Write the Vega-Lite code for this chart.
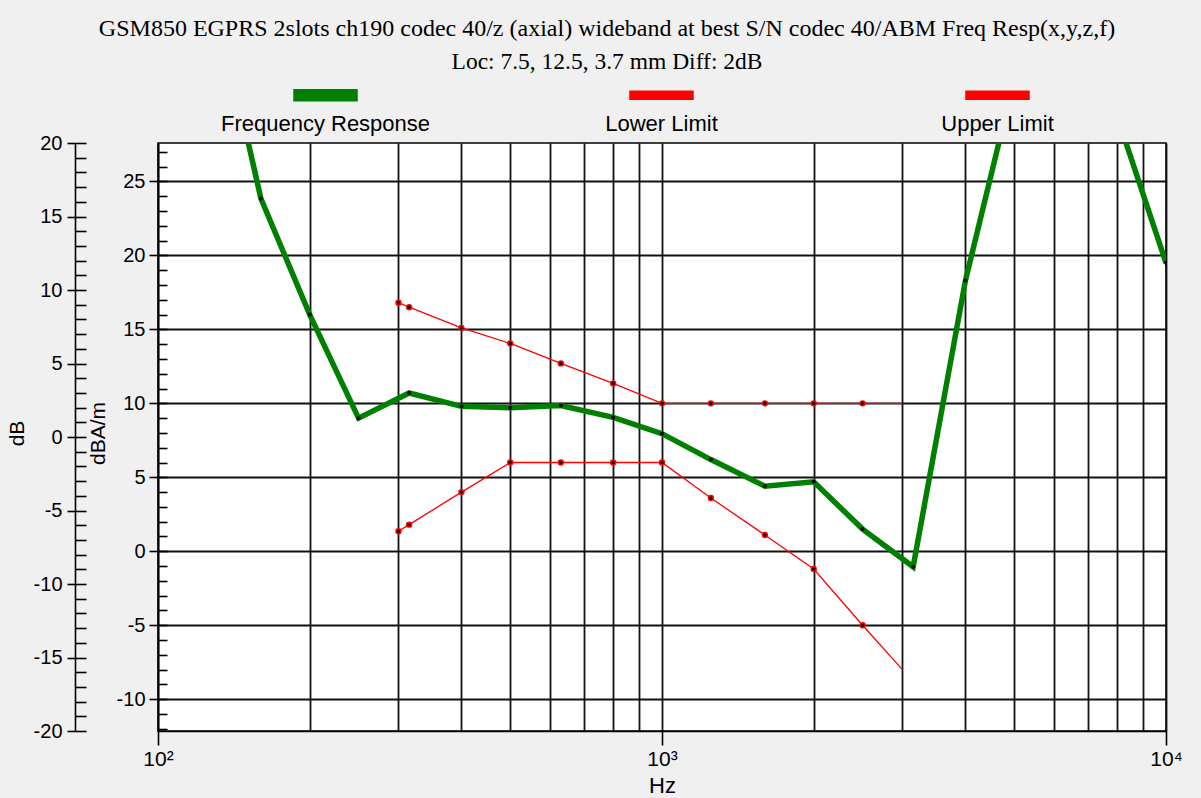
{
  "$schema": "https://vega.github.io/schema/vega-lite/v6.json",
  "width": 1008,
  "height": 588,
  "autosize": {"type": "none"},
  "padding": {"left": 158, "top": 143, "right": 35, "bottom": 67},
  "background": "#f0f0f0",
  "config": {
    "view": {"fill": "#ffffff", "stroke": "#000000", "strokeWidth": 1.5},
    "font": "Liberation Sans",
    "axis": {
      "labelFont": "Liberation Sans", "titleFont": "Liberation Sans",
      "labelColor": "#000000", "titleColor": "#000000", "tickColor": "#000000",
      "domainColor": "#000000", "gridColor": "#111111", "titleFontWeight": "normal",
      "labelFontSize": 20, "titleFontSize": 21, "tickWidth": 1.6, "domainWidth": 1.6,
      "gridWidth": 1.8, "gridOpacity": 1, "labelFlush": false, "labelOverlap": false
    }
  },
  "title": {
    "text": "GSM850 EGPRS 2slots ch190 codec 40/z (axial) wideband at best S/N codec 40/ABM Freq Resp(x,y,z,f)",
    "subtitle": "Loc: 7.5, 12.5, 3.7 mm Diff: 2dB",
    "font": "Liberation Serif", "fontSize": 24, "fontWeight": "normal", "color": "#000000",
    "subtitleFont": "Liberation Serif", "subtitleFontSize": 23.5, "subtitleColor": "#000000",
    "subtitlePadding": 9, "anchor": "middle", "dx": -55, "offset": 8
  },
  "data": {"values": [
    {"series": "Frequency Response", "f": 125, "v": 40},
    {"series": "Frequency Response", "f": 160, "v": 23.85},
    {"series": "Frequency Response", "f": 200, "v": 16.0},
    {"series": "Frequency Response", "f": 250, "v": 9.0},
    {"series": "Frequency Response", "f": 315, "v": 10.7},
    {"series": "Frequency Response", "f": 400, "v": 9.8},
    {"series": "Frequency Response", "f": 500, "v": 9.7},
    {"series": "Frequency Response", "f": 630, "v": 9.85},
    {"series": "Frequency Response", "f": 800, "v": 9.05},
    {"series": "Frequency Response", "f": 1000, "v": 7.95},
    {"series": "Frequency Response", "f": 1250, "v": 6.2},
    {"series": "Frequency Response", "f": 1600, "v": 4.4},
    {"series": "Frequency Response", "f": 2000, "v": 4.7},
    {"series": "Frequency Response", "f": 2500, "v": 1.5},
    {"series": "Frequency Response", "f": 3150, "v": -1.05},
    {"series": "Frequency Response", "f": 4000, "v": 18.3},
    {"series": "Frequency Response", "f": 5000, "v": 31.9},
    {"series": "Frequency Response", "f": 6300, "v": 33},
    {"series": "Frequency Response", "f": 8000, "v": 29.4},
    {"series": "Frequency Response", "f": 10000, "v": 19.5},
    {"series": "Lower Limit", "f": 300, "v": 1.35},
    {"series": "Lower Limit", "f": 315, "v": 1.8},
    {"series": "Lower Limit", "f": 400, "v": 4.0},
    {"series": "Lower Limit", "f": 500, "v": 6},
    {"series": "Lower Limit", "f": 630, "v": 6},
    {"series": "Lower Limit", "f": 800, "v": 6},
    {"series": "Lower Limit", "f": 1000, "v": 6},
    {"series": "Lower Limit", "f": 1250, "v": 3.6},
    {"series": "Lower Limit", "f": 1600, "v": 1.1},
    {"series": "Lower Limit", "f": 2000, "v": -1.2},
    {"series": "Lower Limit", "f": 2500, "v": -5},
    {"series": "Lower Limit", "f": 3000, "v": -8},
    {"series": "Upper Limit", "f": 300, "v": 16.8},
    {"series": "Upper Limit", "f": 315, "v": 16.5},
    {"series": "Upper Limit", "f": 400, "v": 15.1},
    {"series": "Upper Limit", "f": 500, "v": 14.05},
    {"series": "Upper Limit", "f": 630, "v": 12.7},
    {"series": "Upper Limit", "f": 800, "v": 11.35},
    {"series": "Upper Limit", "f": 1000, "v": 10},
    {"series": "Upper Limit", "f": 1250, "v": 10},
    {"series": "Upper Limit", "f": 1600, "v": 10},
    {"series": "Upper Limit", "f": 2000, "v": 10},
    {"series": "Upper Limit", "f": 2500, "v": 10},
    {"series": "Upper Limit", "f": 3000, "v": 10}
  ]},
  "resolve": {"scale": {"y": "independent"}},
  "layer": [
    {
      "encoding": {
        "x": {
          "field": "f", "type": "quantitative",
          "scale": {"type": "log", "domain": [100, 10000], "nice": false},
          "axis": {
            "values": [100, 200, 300, 400, 500, 600, 700, 800, 900, 1000, 2000, 3000, 4000, 5000, 6000, 7000, 8000, 9000, 10000],
            "grid": true,
            "labelExpr": "datum.value == 100 ? '10²' : datum.value == 1000 ? '10³' : datum.value == 10000 ? '10⁴' : ''",
            "tickColor": {"condition": {"test": "datum.value == 100 || datum.value == 1000 || datum.value == 10000", "value": "#000000"}, "value": "transparent"},
            "tickSize": 14, "labelPadding": 3, "labelFontSize": 21,
            "title": "Hz", "titleFontSize": 22, "titleX": 504, "titleY": 54, "titleBaseline": "middle", "titleAlign": "center"
          }
        },
        "y": {
          "field": "v", "type": "quantitative",
          "scale": {"domain": [-12.15, 27.6], "nice": false, "zero": false},
          "axis": {
            "orient": "left",
            "values": [-10, -5, 0, 5, 10, 15, 20, 25],
            "labelExpr": "'' + datum.value",
            "grid": true, "tickSize": 9, "labelPadding": 4,
            "title": "dBA/m", "titleX": -60, "titleY": 290, "titleAlign": "center", "titleBaseline": "middle", "titleAngle": -90
          }
        }
      },
      "layer": [
        {
          "transform": [{"filter": "datum.series === 'Frequency Response'"}],
          "mark": {"type": "line", "strokeWidth": 5.5, "clip": true},
          "encoding": {
            "color": {
              "field": "series", "type": "nominal",
              "scale": {"domain": ["Frequency Response", "Lower Limit", "Upper Limit"], "range": ["#008000", "#ff0000", "#ff0000"]},
              "legend": {
                "orient": "none", "legendX": 135, "legendY": -62, "direction": "horizontal",
                "title": null, "gridAlign": "all", "columnPadding": 77, "rowPadding": 0,
                "symbolSize": 3969, "symbolStrokeWidth": 1.5,
                "symbolType": {"expr": "datum.value === 'Frequency Response' ? 'M-1,-0.762H1V-0.412H-1Z M-4,-1Z M4,-1Z' : 'M-1,-0.714H1V-0.46H-1Z M-4,-1Z M4,-1Z'"},
                "symbolFillColor": {"expr": "datum.value === 'Frequency Response' ? '#008000' : '#ff0000'"},
                "symbolStrokeColor": "#111111",
                "symbolOpacity": 1,
                "labelAlign": "center", "labelOffset": -32.5, "labelBaseline": "top",
                "labelFontSize": 22, "labelFont": "Liberation Sans", "labelColor": "#000000", "labelLimit": 400,
                "encode": {"symbols": {"update": {"stroke": {"value": "#111111"}, "strokeWidth": {"value": 1.5}}}}
              }
            }
          }
        },
        {
          "transform": [{"filter": "datum.series !== 'Frequency Response'"}],
          "mark": {"type": "line", "strokeWidth": 1.3, "clip": true},
          "encoding": {"color": {"field": "series", "type": "nominal"}}
        },
        {
          "transform": [{"filter": "datum.series === 'Frequency Response'"}],
          "mark": {"type": "point", "filled": true, "size": 16, "color": "#000000", "opacity": 1, "clip": true}
        },
        {
          "transform": [{"filter": "datum.series !== 'Frequency Response' && datum.f < 3000"}],
          "mark": {"type": "point", "filled": true, "size": 24, "fill": "#000000", "stroke": "#ff0000", "strokeWidth": 1.5, "opacity": 1, "clip": true}
        }
      ]
    },
    {
      "transform": [{"filter": "datum.v > -12 && datum.v < 20"}],
      "mark": {"type": "point", "opacity": 0, "clip": true},
      "encoding": {
        "y": {
          "field": "v", "type": "quantitative",
          "scale": {"domain": [-12.15, 27.6], "nice": false, "zero": false},
          "axis": {
            "orient": "left", "offset": -9,
            "values": [-12, -11, -10, -9, -8, -7, -6, -5, -4, -3, -2, -1, 0, 1, 2, 3, 4, 5, 6, 7, 8, 9, 10, 11, 12, 13, 14, 15, 16, 17, 18, 19, 20, 21, 22, 23, 24, 25, 26, 27],
            "tickSize": 9, "labels": false, "domain": false, "grid": false, "title": null
          }
        }
      }
    },
    {
      "transform": [{"filter": "datum.v > -12 && datum.v < 20"}],
      "mark": {"type": "point", "opacity": 0, "clip": true},
      "encoding": {
        "y": {
          "field": "v", "type": "quantitative",
          "scale": {"domain": [-20, 20], "nice": false, "zero": false},
          "axis": {
            "orient": "left", "offset": 83,
            "values": [-20, -15, -10, -5, 0, 5, 10, 15, 20],
            "labelExpr": "'' + datum.value",
            "tickSize": 8, "labelPadding": 5, "grid": false,
            "title": "dB", "titleX": -58, "titleY": 290, "titleAlign": "center", "titleBaseline": "middle", "titleAngle": -90
          }
        }
      }
    },
    {
      "transform": [{"filter": "datum.v > -12 && datum.v < 20"}],
      "mark": {"type": "point", "opacity": 0, "clip": true},
      "encoding": {
        "y": {
          "field": "v", "type": "quantitative",
          "scale": {"domain": [-20, 20], "nice": false, "zero": false},
          "axis": {
            "orient": "left", "offset": 72,
            "values": [-20, -19, -18, -17, -16, -15, -14, -13, -12, -11, -10, -9, -8, -7, -6, -5, -4, -3, -2, -1, 0, 1, 2, 3, 4, 5, 6, 7, 8, 9, 10, 11, 12, 13, 14, 15, 16, 17, 18, 19, 20],
            "tickSize": 11, "labels": false, "domain": false, "grid": false, "title": null
          }
        }
      }
    }
  ]
}
